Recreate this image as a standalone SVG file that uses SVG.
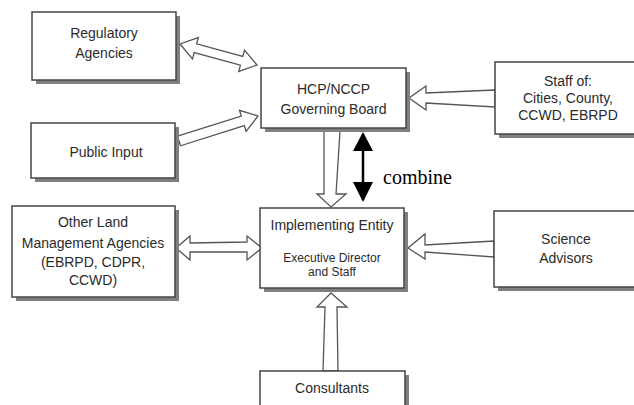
<svg xmlns="http://www.w3.org/2000/svg" width="634" height="405" viewBox="0 0 634 405">
<style>
.box{fill:#fff;stroke:#444;stroke-width:1.5}
.sh{fill:#808080}
.t{font-family:"Liberation Sans",Arial,sans-serif;font-size:14px;fill:#2a2a2a;text-anchor:middle}
.s{font-size:12px}
.ar{fill:#fff;stroke:#555;stroke-width:1.3;stroke-linejoin:miter}
</style>
<defs>
<marker id="tri" viewBox="0 0 10 10" refX="10" refY="5" markerWidth="10" markerHeight="10" markerUnits="userSpaceOnUse" orient="auto-start-reverse">
<path d="M0,0 L10,5 L0,10 Z" fill="#000"/>
</marker>
</defs>
<rect width="634" height="405" fill="#fff"/>

<g id="connectors">
<polygon class="ar" points="180,44 192.5,58.8 194.2,52.5 240.4,65.1 238.7,71.4 257,65 244.5,50.2 242.8,56.5 196.6,43.9 198.3,37.6"/>
<polygon class="ar" points="177.5,136.2 241.3,116 239.5,110.3 258,116 246.1,131.3 244.3,125.6 180.5,145.8"/>
<polygon class="ar" points="495,90 426,93 426,86 409,98 426,110 426,103 495,107"/>
<polygon class="ar" points="324,131 324,194 317,194 331,207 346,194 336,194 340,131"/>
<polygon class="ar" points="176,248 190,236 190,243 247,242 247,236 262,248 247,260 247,252 190,252 190,260"/>
<polygon class="ar" points="494,241 425,245 425,234 408,248 425,259 425,252 494,257"/>
<polygon class="ar" points="323,371 325,307 317,307 331,293 347,307 337,307 338,371"/>
<line x1="363" y1="134" x2="363" y2="200" stroke="#000" stroke-width="2.5"/>
<polygon points="363,132 373,151 353,151" fill="#000"/>
<polygon points="363,202 373,182 353,182" fill="#000"/>
<text x="383" y="184" font-family="'Liberation Serif','Times New Roman',serif" font-size="20" fill="#000">combine</text>
</g>

<g id="regulatory">
<rect class="sh" x="36" y="16" width="144" height="68"/>
<rect class="box" x="32" y="12" width="144" height="68"/>
<text class="t" x="104" y="38">Regulatory</text>
<text class="t" x="104" y="58">Agencies</text>
</g>

<g id="public-input">
<rect class="sh" x="35" y="127" width="144" height="55"/>
<rect class="box" x="31" y="123" width="144" height="55"/>
<text class="t" x="106" y="157">Public Input</text>
</g>

<g id="other-land">
<rect class="sh" x="16" y="210" width="163" height="91"/>
<rect class="box" x="12" y="206" width="163" height="91"/>
<text class="t" x="93" y="227">Other Land</text>
<text class="t" x="93" y="248">Management Agencies</text>
<text class="t" x="93" y="267">(EBRPD, CDPR,</text>
<text class="t" x="93" y="285">CCWD)</text>
</g>

<g id="governing-board">
<rect class="sh" x="265" y="72" width="145" height="60"/>
<rect class="box" x="261" y="68" width="145" height="60"/>
<text class="t" x="333.5" y="94">HCP/NCCP</text>
<text class="t" x="333.5" y="114">Governing Board</text>
</g>

<g id="staff">
<rect class="sh" x="499" y="66" width="145" height="72"/>
<rect class="box" x="495" y="62" width="145" height="72"/>
<text class="t" x="568" y="86">Staff of:</text>
<text class="t" x="568" y="103">Cities, County,</text>
<text class="t" x="568" y="120">CCWD, EBRPD</text>
</g>

<g id="implementing">
<rect class="sh" x="264" y="212" width="144" height="80"/>
<rect class="box" x="260" y="208" width="144" height="80"/>
<text class="t" x="332" y="230">Implementing Entity</text>
<text class="t s" x="332" y="262">Executive Director</text>
<text class="t s" x="332" y="276">and Staff</text>
</g>

<g id="science">
<rect class="sh" x="498" y="215" width="145" height="76"/>
<rect class="box" x="494" y="211" width="145" height="76"/>
<text class="t" x="566" y="244">Science</text>
<text class="t" x="566" y="263">Advisors</text>
</g>

<g id="consultants">
<rect class="sh" x="264" y="375" width="145" height="40"/>
<rect class="box" x="260" y="371" width="145" height="40"/>
<text class="t" x="332" y="393">Consultants</text>
</g>
</svg>
